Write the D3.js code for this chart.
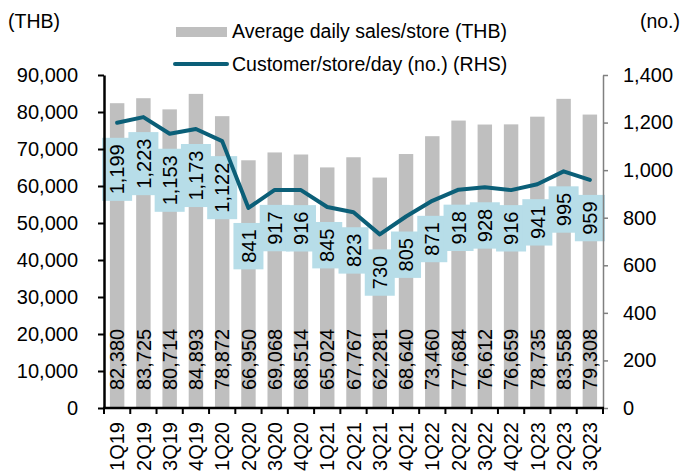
<!DOCTYPE html>
<html>
<head>
<meta charset="utf-8">
<script src="https://cdn.jsdelivr.net/npm/d3@7"></script>
<style>
  body { margin: 0; background: #fff; }
  text { font-family: "Liberation Sans", Arial, sans-serif; fill: #000; }
</style>
</head>
<body>
<div id="chart"></div>
<script>
// quarters
var quarters = ["1Q19","2Q19","3Q19","4Q19","1Q20","2Q20","3Q20","4Q20","1Q21","2Q21",
  "3Q21","4Q21","1Q22","2Q22","3Q22","4Q22","1Q23","2Q23","3Q23"];

// average daily sales per store (THB)
var salesPerStore = [82380, 83725, 80714, 84893, 78872, 66950, 69068, 68514, 65024, 67767,
  62281, 68640, 73460, 77684, 76612, 76659, 78735, 83558, 79308];

// customers per store per day (RHS)
var customersPerDay = [1199, 1223, 1153, 1173, 1122, 841, 917, 916, 845, 823,
  730, 805, 871, 918, 928, 916, 941, 995, 959];

var leftTicks = [0, 10000, 20000, 30000, 40000, 50000, 60000, 70000, 80000, 90000];
var rightTicks = [0, 200, 400, 600, 800, 1000, 1200, 1400];

var svgWidth = 683, svgHeight = 475;
var margin = { top: 75, right: 80, bottom: 67, left: 104 };
var width = svgWidth - margin.left - margin.right;
var height = svgHeight - margin.top - margin.bottom;

var barColor = "#bfbfbf";
var lineColor = "#0b5f78";
var boxColor = "#b7dde8";
var fmt = d3.format(",");

var svg = d3.select("#chart").append("svg")
  .attr("width", svgWidth)
  .attr("height", svgHeight);

var chartGroup = svg.append("g")
  .attr("transform", `translate(${margin.left}, ${margin.top})`);

var data = quarters.map(function(q, i) {
  return { q: q, sales: salesPerStore[i], cust: customersPerDay[i] };
});

// scales
var xScale = d3.scaleBand()
  .domain(quarters)
  .range([0, width])
  .paddingInner(0.45)
  .paddingOuter(0.225);

var yLeft = d3.scaleLinear().domain([0, 90000]).range([height, 0]);
var yRight = d3.scaleLinear().domain([0, 1400]).range([height, 0]);

var cx = function(d) { return xScale(d.q) + xScale.bandwidth() / 2; };

// bars
chartGroup.selectAll("rect.bar")
  .data(data)
  .enter()
  .append("rect")
  .attr("class", "bar")
  .attr("x", d => xScale(d.q))
  .attr("y", d => yLeft(d.sales))
  .attr("width", xScale.bandwidth())
  .attr("height", d => height - yLeft(d.sales))
  .attr("fill", barColor);

// bar labels, inside base
chartGroup.selectAll("text.barLabel")
  .data(data)
  .enter()
  .append("text")
  .attr("class", "barLabel")
  .attr("transform", d => `translate(${cx(d)}, ${height - 18}) rotate(-90)`)
  .attr("dy", "0.36em")
  .attr("font-size", "20px")
  .text(d => fmt(d.sales));

// line labels in light blue boxes, below the point
var labelGroups = chartGroup.selectAll("g.lineLabel")
  .data(data)
  .enter()
  .append("g")
  .attr("class", "lineLabel");

labelGroups.append("text")
  .attr("transform", d => `translate(${cx(d)}, ${yRight(d.cust) + 15}) rotate(-90)`)
  .attr("text-anchor", "end")
  .attr("dx", "-6.5")
  .attr("dy", "0.36em")
  .attr("font-size", "20px")
  .text(d => fmt(d.cust))
  .each(function(d) { d.textLen = this.getComputedTextLength(); });

labelGroups.insert("rect", "text")
  .attr("x", d => cx(d) - 15)
  .attr("y", d => yRight(d.cust) + 15)
  .attr("width", 30)
  .attr("height", d => d.textLen + 13)
  .attr("fill", boxColor);

// line
var line = d3.line()
  .x(cx)
  .y(d => yRight(d.cust));

chartGroup.append("path")
  .datum(data)
  .attr("d", line)
  .attr("fill", "none")
  .attr("stroke", lineColor)
  .attr("stroke-width", 4)
  .attr("stroke-linejoin", "round")
  .attr("stroke-linecap", "round");

// axes
var leftAxis = d3.axisLeft(yLeft).tickValues(leftTicks).tickFormat(fmt)
  .tickSize(6).tickSizeOuter(0).tickPadding(20);
var rightAxis = d3.axisRight(yRight).tickValues(rightTicks).tickFormat(fmt)
  .tickSize(5).tickSizeOuter(0).tickPadding(15);

var gLeft = chartGroup.append("g").call(leftAxis);
gLeft.select(".domain").attr("stroke", "#000").attr("stroke-width", 2.5);
gLeft.selectAll(".tick line").attr("stroke", "#000").attr("stroke-width", 2);
gLeft.selectAll(".tick text").attr("font-size", "20px").attr("font-family", null);

var gRight = chartGroup.append("g")
  .attr("transform", `translate(${width}, 0)`)
  .call(rightAxis);
gRight.select(".domain").attr("stroke", "#808080").attr("stroke-width", 1.5);
gRight.selectAll(".tick line").attr("stroke", "#808080").attr("stroke-width", 1.5);
gRight.selectAll(".tick text").attr("font-size", "20px").attr("font-family", null);

// bottom axis: ticks at category boundaries
var gBottom = chartGroup.append("g").attr("transform", `translate(0, ${height})`);
gBottom.append("line")
  .attr("x1", -1).attr("x2", width + 1)
  .attr("stroke", "#000").attr("stroke-width", 2.5);
gBottom.selectAll("line.tk")
  .data(d3.range(quarters.length + 1))
  .enter()
  .append("line")
  .attr("class", "tk")
  .attr("x1", i => i * xScale.step())
  .attr("x2", i => i * xScale.step())
  .attr("y1", 0).attr("y2", 6)
  .attr("stroke", "#000").attr("stroke-width", 2);
gBottom.selectAll("text")
  .data(quarters)
  .enter()
  .append("text")
  .attr("transform", q => `translate(${xScale(q) + xScale.bandwidth() / 2}, 14) rotate(-90)`)
  .attr("text-anchor", "end")
  .attr("dy", "0.36em")
  .attr("font-size", "20px")
  .text(q => q);

// units
svg.append("text").attr("x", 8).attr("y", 28).attr("font-size", "19.5px").text("(THB)");
svg.append("text").attr("x", 680).attr("y", 28).attr("text-anchor", "end")
  .attr("font-size", "19.5px").text("(no.)");

// legend
var legend = svg.append("g");
legend.append("rect")
  .attr("x", 176).attr("y", 27).attr("width", 51).attr("height", 10)
  .attr("fill", barColor);
legend.append("text")
  .attr("x", 232).attr("y", 38).attr("font-size", "19.5px")
  .text("Average daily sales/store (THB)");
legend.append("line")
  .attr("x1", 175).attr("x2", 227).attr("y1", 64).attr("y2", 64)
  .attr("stroke", lineColor).attr("stroke-width", 4).attr("stroke-linecap", "round");
legend.append("text")
  .attr("x", 232).attr("y", 71).attr("font-size", "19.5px")
  .text("Customer/store/day (no.) (RHS)");
</script>
</body>
</html>
